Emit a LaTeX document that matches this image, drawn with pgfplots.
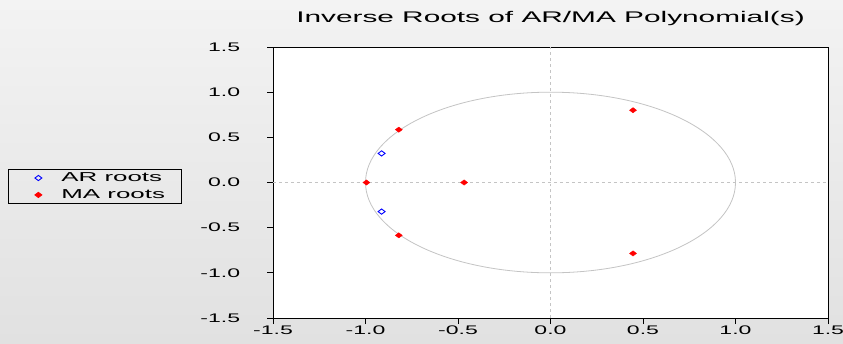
\documentclass[border=0pt]{standalone}
\usepackage{pgfplots}
\pgfplotsset{compat=1.18}
\usepackage{graphicx}
\usepackage{fontspec}
\setmainfont{Liberation Sans}
\definecolor{bgtop}{HTML}{F3F3F3}
\definecolor{bgbot}{HTML}{E1E1E1}
\definecolor{circ}{HTML}{C4C4C4}
\begin{document}
\begin{tikzpicture}[x=1bp,y=1bp]
\useasboundingbox (0,0) rectangle (843,343);
\shade[top color=bgtop,bottom color=bgbot] (0,0) rectangle (843,343);
\begin{axis}[
  at={(273bp,25bp)}, anchor=south west,
  scale only axis, width=555bp, height=271bp,
  xmin=-1.5, xmax=1.5, ymin=-1.5, ymax=1.5,
  xtick={-1.5,-1,...,1.5}, ytick={-1.5,-1,...,1.5},
  axis background/.style={fill=white},
  axis line style={black, line width=0.9pt},
  tick align=outside, major tick length=6bp,
  tick style={black, line width=0.8pt},
  xtick pos=bottom, ytick pos=left,
  /pgf/number format/.cd, fixed, fixed zerofill, precision=1, assume math mode=true,
  /pgfplots/.cd,
  ticklabel style={font=\fontsize{12.5}{12.5}\selectfont, xscale=1.85},
  xticklabel style={yshift=2bp},
  yticklabel style={xshift=-11bp},
  title={Inverse Roots of AR/MA Polynomial(s)},
  title style={font=\fontsize{15.5}{15.5}\selectfont, xscale=1.93, yshift=12bp},
  legend style={at={(-0.4775,0.549)}, anchor=north west, draw=black, line width=0.8pt,
     fill=none, font=\fontsize{13}{13}\selectfont, inner xsep=14bp, inner ysep=1.2bp,
     row sep=2.5bp, nodes={inner ysep=2bp}},
  legend image code/.code={\path[draw=none,fill=none] (0bp,0bp) -- (37bp,0bp);
     \path[#1,draw=none] plot coordinates {(16bp,0bp)};},
  legend cell align=left,
  clip=false,
]
\draw[circ, line width=0.8pt] (axis cs:0,0) ellipse [x radius=1, y radius=1];
\draw[circ, dashed, line width=0.5pt] (axis cs:-1.5,0) -- (axis cs:1.5,0);
\draw[circ, dashed, line width=0.5pt] (axis cs:0,-1.5) -- (axis cs:0,1.5);
\addplot[only marks, mark=diamond, mark size=3.5pt, mark options={rotate=90, draw=blue, line width=0.9pt}]
  coordinates {(-0.913,0.322) (-0.913,-0.322)};
\addlegendentry{\scalebox{2.0}[1]{AR roots}}
\addplot[only marks, mark=diamond*, mark size=3.5pt, mark options={rotate=90, draw=red, fill=red}]
  coordinates {(-0.82,0.585) (-0.82,-0.585) (-0.995,0) (-0.467,0) (0.446,0.8) (0.446,-0.785)};
\addlegendentry{\scalebox{2.0}[1]{MA roots}}
\end{axis}
\end{tikzpicture}
\end{document}
